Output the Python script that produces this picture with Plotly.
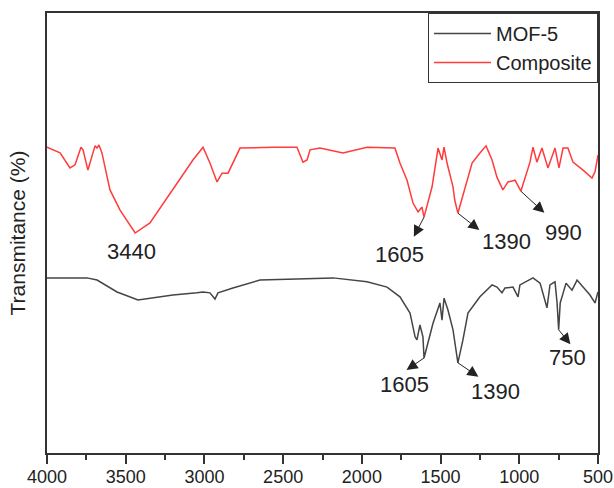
import numpy as np
import plotly.graph_objects as go

# ---- data ----
composite_x = [4000, 3917, 3854, 3822, 3784, 3771, 3740, 3714, 3695, 3682, 3670, 3651, 3632, 3600,
               3536, 3440, 3346, 3200, 3073, 3009, 2965, 2920, 2888, 2850, 2774, 2564, 2412, 2374,
               2348, 2329, 2266, 2120, 1967, 1790, 1758, 1713, 1675, 1643, 1618, 1605, 1554, 1516,
               1491, 1478, 1459, 1421, 1410, 1390, 1345, 1300, 1250, 1211, 1173, 1142, 1104, 1072,
               1027, 990, 932, 913, 888, 856, 818, 773, 748, 722, 691, 659, 595, 538, 519, 500]
composite_y = [69.5, 68.2, 64.8, 65.5, 69.5, 68.9, 64.3, 67.3, 69.8, 69.3, 70.0, 68.2, 65.0, 59.8,
               55.2, 50.0, 52.3, 59.8, 66.6, 69.5, 65.9, 61.6, 63.6, 63.6, 69.3, 69.5, 69.5, 66.1,
               66.6, 68.9, 69.3, 68.2, 69.5, 69.3, 65.9, 62.0, 56.8, 54.8, 55.9, 53.6, 60.5, 69.3,
               66.6, 69.5, 65.9, 60.5, 57.5, 54.5, 60.5, 65.9, 68.2, 69.8, 66.6, 62.7, 59.8, 61.6,
               62.0, 59.5, 66.1, 69.5, 66.1, 69.3, 64.8, 69.3, 64.8, 69.3, 69.3, 66.1, 64.3, 62.5,
               63.9, 67.7]

mof5_x = [4000, 3746, 3682, 3555, 3422, 3200, 3047, 3009, 2965, 2933, 2914, 2819, 2647, 2437, 2266,
          2183, 1967, 1840, 1758, 1694, 1662, 1650, 1631, 1612, 1605, 1548, 1504, 1491, 1478, 1453,
          1421, 1390, 1358, 1326, 1250, 1173, 1142, 1110, 1091, 1040, 1008, 996, 913, 868, 824,
          805, 773, 760, 750, 740, 703, 665, 633, 595, 551, 519, 500]
mof5_y = [39.8, 39.8, 39.3, 36.6, 34.8, 35.9, 36.4, 36.6, 36.4, 35.0, 36.4, 37.5, 39.3, 39.5, 39.8,
          39.8, 38.9, 37.7, 35.5, 31.8, 26.4, 25.7, 29.1, 26.4, 21.6, 29.5, 34.1, 30.2, 35.2, 32.5,
          28.0, 20.5, 25.7, 31.8, 35.5, 38.2, 37.7, 36.4, 37.5, 37.7, 35.5, 38.2, 39.8, 38.6, 33.0,
          38.2, 38.9, 34.1, 28.0, 34.1, 38.6, 37.0, 39.3, 37.7, 35.9, 34.1, 36.6]

x_ticks = [4000, 3500, 3000, 2500, 2000, 1500, 1000, 500]

# peak labels: series, wavenumber
peaks_composite = [3440, 1605, 1390, 990]
peaks_mof5 = [1605, 1390, 750]

# ---- annotation layout (label positions and arrow offsets, in px) ----
label_pos = {
    ("Composite", 3440): (3466, 45.9, None),
    ("Composite", 1605): (1764, 45.2, (-11, 21)),
    ("Composite", 1390): (1084, 48.0, (23, 18)),
    ("Composite", 990): (722, 50.2, (25, 23)),
    ("MOF-5", 1605): (1726, 15.5, (-19, 13)),
    ("MOF-5", 1390): (1154, 13.9, (22, 15)),
    ("MOF-5", 750): (691, 21.6, (13, 16)),
}

FONT = "Liberation Sans, Arial, sans-serif"
GRAY = "#454545"
RED = "#ff3b3b"

fig = go.Figure()
fig.add_trace(go.Scatter(x=mof5_x, y=mof5_y, mode="lines", name="MOF-5",
                         line=dict(color=GRAY, width=1.5)))
fig.add_trace(go.Scatter(x=composite_x, y=composite_y, mode="lines", name="Composite",
                         line=dict(color=RED, width=1.5)))

annotations = []
series = {"Composite": (composite_x, composite_y, peaks_composite),
          "MOF-5": (mof5_x, mof5_y, peaks_mof5)}
for name, (sx, sy, peaks) in series.items():
    xs = np.array(sx[::-1], dtype=float)
    ys = np.array(sy[::-1], dtype=float)
    for p in peaks:
        tx, ty, arr = label_pos[(name, p)]
        annotations.append(dict(x=tx, y=ty, xref="x", yref="y", text=str(p), showarrow=False,
                                font=dict(family=FONT, size=22, color="#222")))
        if arr is not None:
            py = float(np.interp(p, xs, ys))
            annotations.append(dict(x=p, y=py, xref="x", yref="y", text="", showarrow=True,
                                    ax=arr[0], ay=arr[1], arrowside="start",
                                    startarrowhead=2, startarrowsize=2.2,
                                    arrowwidth=1.0, arrowcolor="#222"))

fig.update_layout(
    width=614, height=488,
    margin=dict(l=47, r=16, t=13, b=35),
    paper_bgcolor="white", plot_bgcolor="white",
    font=dict(family=FONT, size=18, color="#222"),
    showlegend=True,
    legend=dict(x=1, y=1, xanchor="right", yanchor="top", bordercolor="#333", borderwidth=1,
                bgcolor="white", font=dict(size=20), tracegroupgap=0, itemwidth=57),
    annotations=annotations,
)
fig.update_xaxes(range=[4000, 500], tickvals=x_ticks, ticktext=[str(v) for v in x_ticks],
                 ticks="outside", ticklen=9, tickwidth=1.5, tickcolor="#333",
                 minor=dict(dtick=250, tick0=500, ticks="outside", ticklen=5, tickwidth=1.5, tickcolor="#333"),
                 showline=True, linecolor="#333", linewidth=2, mirror=True, showgrid=False,
                 zeroline=False, tickfont=dict(size=18), automargin=False, ticklabelstandoff=-3)
fig.update_yaxes(range=[0, 100], showticklabels=False, ticks="", showline=True, linecolor="#333",
                 linewidth=2, mirror=True, showgrid=False, zeroline=False, automargin=False,
                 title=dict(text="Transmitance (%)", font=dict(size=21), standoff=14))

fig.write_html("out.html", config={"displayModeBar": False},
               post_script="document.body.style.margin='0';document.body.style.overflow='hidden';")
